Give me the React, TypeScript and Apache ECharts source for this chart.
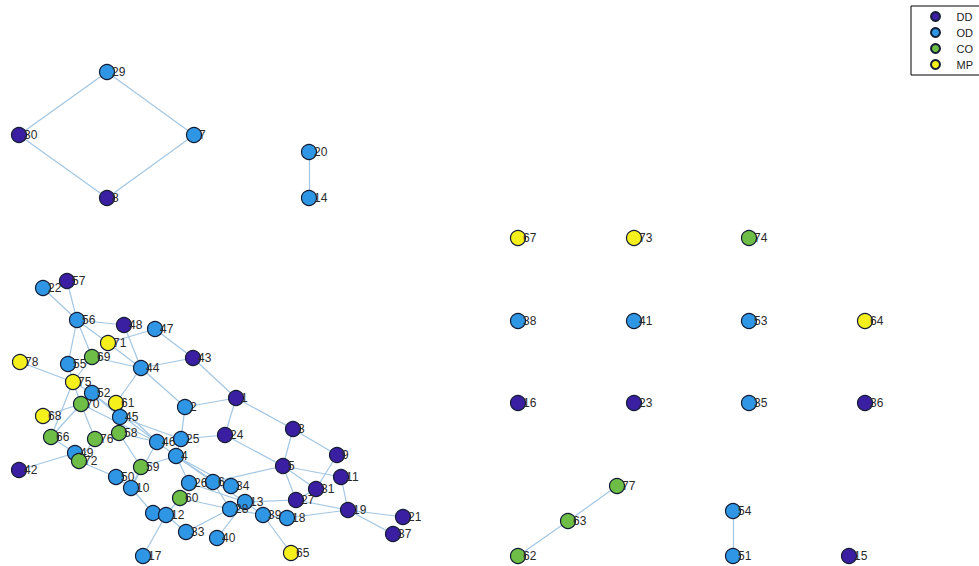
import React, { useEffect, useRef } from "react";
import * as echarts from "echarts";

const categories = ["DD", "OD", "CO", "MP"];
const categoryColors = ["#3a1fa2", "#2f96e6", "#6dbd47", "#f5ef1c"];

// node id, category index, layout x, layout y (graph layout coordinates)
const nodeIds = [
  "29", "7", "30", "8", "20", "14",
  "67", "73", "74", "38", "41", "53", "64", "16", "23", "35", "36",
  "77", "63", "62", "54", "51", "15",
  "57", "22", "56", "48", "47", "71", "69", "55", "44", "43", "78", "75",
  "52", "70", "61", "45", "68", "2", "1", "66", "76", "58", "46", "25",
  "24", "3", "49", "72", "42", "4", "59", "50", "10", "9", "5", "26",
  "6", "34", "11", "60", "31", "27", "13", "28", "32", "12", "39", "18",
  "19", "21", "37", "65", "33", "40", "17",
];
const nodeCats = [
  1, 1, 0, 0, 1, 1,
  3, 3, 2, 1, 1, 1, 3, 0, 0, 1, 0,
  2, 2, 2, 1, 1, 0,
  0, 1, 1, 0, 1, 3, 2, 1, 1, 0, 3, 3,
  1, 2, 3, 1, 3, 1, 0, 2, 2, 2, 1, 1,
  0, 0, 1, 2, 0, 1, 2, 1, 1, 0, 0, 1,
  1, 1, 0, 2, 0, 0, 1, 1, 1, 1, 1, 1,
  0, 0, 0, 3, 1, 1, 1,
];
const nodeX = [
  107, 194, 19, 107, 309, 309,
  518, 634, 749, 518, 634, 749, 865, 518, 634, 749, 865,
  617, 568, 518, 733, 733, 849,
  67, 43, 77, 124, 155, 108, 92, 68, 141, 193, 20, 73,
  92, 81, 116, 120, 43, 185, 236, 51, 95, 119, 157, 181,
  225, 293, 75, 79, 19, 176, 141, 116, 131, 337, 283, 189,
  213, 231, 341, 180, 316, 296, 245, 230, 153, 166, 263, 287,
  348, 403, 393, 291, 186, 217, 143,
];
const nodeY = [
  72, 135, 135, 198, 152, 198,
  238, 238, 238, 321, 321, 321, 321, 403, 403, 403, 403,
  486, 521, 556, 511, 556, 556,
  281, 288, 320, 325, 329, 343, 357, 364, 368, 358, 362, 382,
  393, 404, 403, 417, 416, 407, 398, 437, 439, 433, 442, 439,
  435, 429, 453, 461, 470, 456, 467, 477, 488, 455, 466, 483,
  482, 486, 477, 498, 489, 500, 502, 509, 513, 515, 515, 518,
  510, 517, 534, 553, 532, 538, 556,
];
// labels hidden behind neighbouring nodes in the original picture
const hiddenLabels = ["32"];

const edgeSources = [
  "29", "29", "30", "7", "20", "77", "63", "54",
  "22", "57", "56", "56", "56", "56", "48", "71", "71", "47", "43", "43",
  "69", "69", "78", "75", "44", "44", "1", "1", "1", "24", "24", "2",
  "3", "3", "9", "5", "11", "5", "5", "31", "27", "27", "18", "19", "19",
  "39", "39", "13", "28", "28", "40", "4", "4", "4", "4", "26", "6",
  "59", "59", "58", "50", "10", "32", "12", "12", "60", "60",
  "50", "49", "42", "66", "66", "76", "76", "58", "45", "61", "52", "52",
  "46", "46", "25", "75", "75", "70", "68", "55", "5",
];
const edgeTargets = [
  "30", "7", "8", "8", "14", "63", "62", "51",
  "56", "56", "48", "55", "69", "71", "44", "47", "44", "43", "44", "1",
  "44", "75", "75", "52", "61", "2", "2", "24", "3", "25", "5", "25",
  "5", "9", "31", "11", "19", "27", "31", "27", "19", "13", "19", "21", "37",
  "65", "18", "39", "39", "33", "13", "26", "6", "34", "13", "13", "28",
  "4", "10", "59", "10", "32", "12", "17", "33", "12", "28",
  "72", "72", "49", "49", "70", "70", "72", "46", "25", "46", "46", "45",
  "4", "10", "4", "70", "66", "46", "70", "75", "6",
];

export default function App() {
  const ref = useRef<HTMLDivElement>(null);
  useEffect(() => {
    document.body.style.margin = "0";
    if (!ref.current) return;
    const chart = echarts.init(ref.current, null, { renderer: "svg" });
    const nodes = nodeIds.map((id, i) => ({
      name: id,
      value: [nodeX[i], nodeY[i]],
      category: nodeCats[i],
      label: hiddenLabels.indexOf(id) >= 0 ? { show: false } : undefined,
    }));
    const links = edgeSources.map((s, i) => ({ source: s, target: edgeTargets[i] }));
    chart.setOption({
      animation: false,
      backgroundColor: "#ffffff",
      grid: { left: 0, right: 0, top: 0, bottom: 0 },
      xAxis: { type: "value", min: 0, max: 979, show: false },
      yAxis: { type: "value", min: 0, max: 566, inverse: true, show: false },
      legend: {
        data: categories.map((c) => ({ name: c, icon: "circle" })),
        orient: "vertical",
        left: 911,
        top: 6,
        itemWidth: 32,
        itemHeight: 9,
        itemGap: 5,
        padding: [5, 30, 5, 19],
        borderColor: "#000000",
        borderWidth: 1,
        textStyle: { fontSize: 11, color: "#222", fontFamily: "Liberation Sans, Arial, sans-serif" },
      },
      series: [
        {
          type: "graph",
          layout: "none",
          coordinateSystem: "cartesian2d",
          symbol: "circle",
          symbolSize: 15,
          categories: categories.map((c, i) => ({
            name: c,
            itemStyle: { color: categoryColors[i], borderColor: "#141d33", borderWidth: 1.2 },
          })),
          data: nodes,
          links: links,
          lineStyle: { color: "#a2c6e3", width: 1.2, opacity: 1, curveness: 0 },
          label: {
            show: true,
            position: "right",
            distance: -3,
            fontSize: 12,
            color: "#2a2a2a",
            fontFamily: "Liberation Sans, Arial, sans-serif",
          },
          emphasis: { disabled: true },
        },
      ],
    });
    return () => chart.dispose();
  }, []);
  return <div ref={ref} style={{ width: 979, height: 566 }} />;
}
